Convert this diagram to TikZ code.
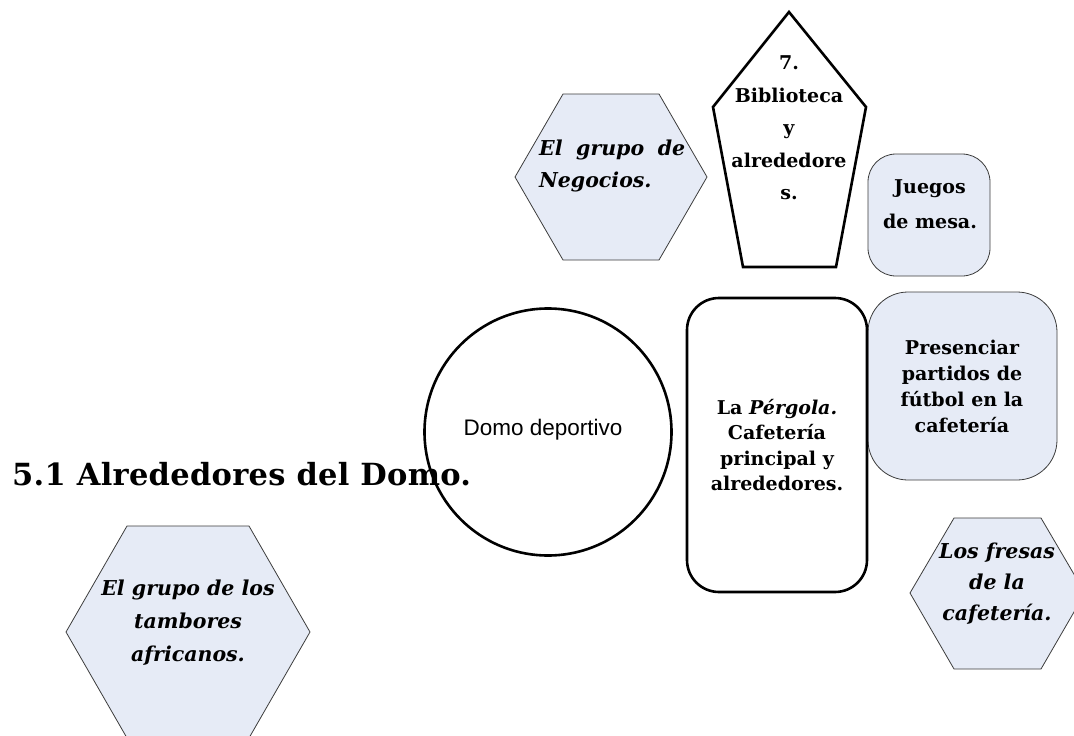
\documentclass[tikz,border=0pt]{standalone}
\usepackage{fontspec}
\setmainfont{DejaVu Serif}
\newfontfamily\arialf{Liberation Sans}
\usetikzlibrary{shapes.geometric}
\definecolor{boxfill}{RGB}{230,235,246}
\definecolor{thinline}{RGB}{60,60,60}
\begin{document}
\begin{tikzpicture}[x=1pt,y=-1pt,
  bluefill/.style={fill=boxfill,draw=thinline,line width=0.8pt},
  heavy/.style={draw=black,line width=2.6pt,fill=white},
  lbl/.style={align=center,inner sep=0pt,font=\fontsize{19}{#1}\selectfont\bfseries},
  ilbl/.style={align=center,inner sep=0pt,font=\fontsize{20.5}{#1}\selectfont\bfseries\itshape},
]
\useasboundingbox (0,0) rectangle (1074,736);
\clip (0,0) rectangle (1074,736);
% hexagon: El grupo de Negocios
\draw[bluefill] (563,94) -- (659,94) -- (707,177) -- (659,260) -- (563,260) -- (515,177) -- cycle;
% pentagon: Biblioteca
\draw[heavy] (789,12) -- (866,107) -- (836,267) -- (743,267) -- (713,107) -- cycle;
% Juegos de mesa
\draw[bluefill,rounded corners=28pt] (868,154) rectangle (990,276);
% Presenciar
\draw[bluefill,rounded corners=40pt] (868,292) rectangle (1057,480);
% La Pergola
\draw[heavy,rounded corners=32pt] (687,298) rectangle (867,592);
% Domo circle
\draw[heavy,fill=none] (548,432) circle (123.5);
% hexagon: Los fresas
\draw[bluefill] (954,518) -- (1041,518) -- (1085,593) -- (1041,669) -- (954,669) -- (910,593) -- cycle;
% hexagon: tambores
\draw[bluefill] (127,526) -- (249,526) -- (310,632) -- (249,738) -- (127,738) -- (66,632) -- cycle;

% texts
\node[ilbl=32,anchor=west,text width=146pt,align=left] (negocios) at (539,166)
  {\makebox[146pt][s]{El\hfill grupo\hfill de}\\Negocios.};
\node[lbl=32.5] (biblio) at (789,128) {7.\\Biblioteca\\y\\alrededore\\s.};
\node[lbl=35] (juegos) at (930,204) {Juegos\\de mesa.};
\node[lbl=26] (presenciar) at (962,386) {Presenciar\\partidos de\\fútbol en la\\cafetería};
\node[lbl=25.5] (pergola) at (777,445) {La \textit{Pérgola.}\\Cafetería\\principal y\\alrededores.};
\node[inner sep=0pt,font=\fontsize{22.5}{26}\selectfont\arialf] (domo) at (543,430) {Domo deportivo};
\node[ilbl=31] (fresas) at (997,584) {Los fresas\\de la\\cafetería.};
\node[ilbl=33] (tambores) at (188,623) {El grupo de los\\tambores\\africanos.};
\node[inner sep=0pt,anchor=base west,font=\fontsize{30.5}{36}\selectfont\bfseries\addfontfeature{LetterSpace=1}] (title) at (12,485) {5.1 Alrededores del Domo.};
\end{tikzpicture}
\end{document}
